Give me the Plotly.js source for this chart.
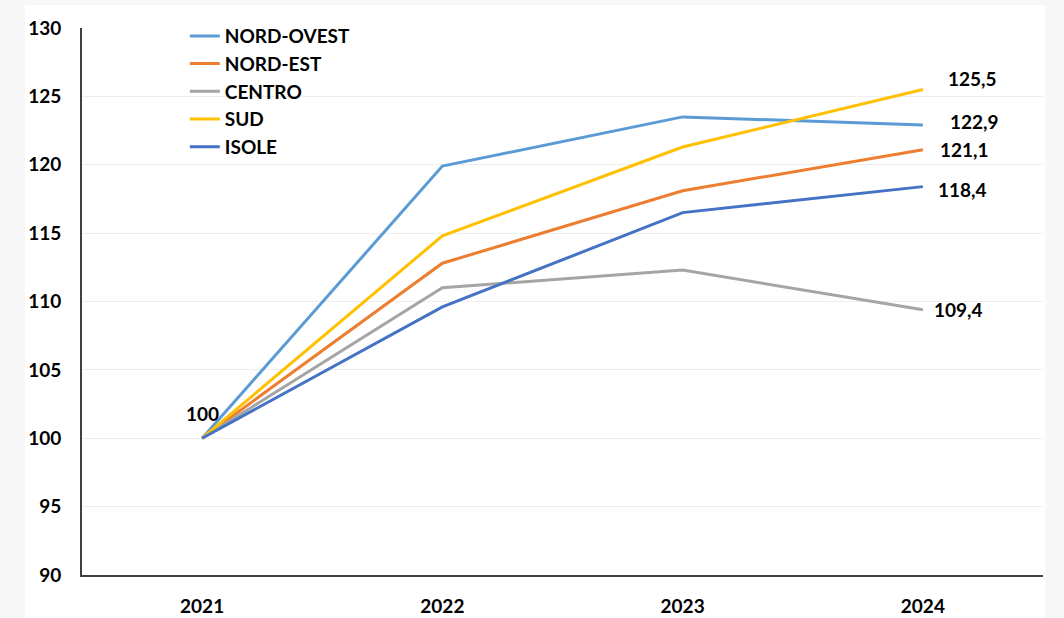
<!DOCTYPE html>
<html>
<head>
<meta charset="utf-8">
<script src="https://cdn.plot.ly/plotly-3.0.1.min.js"></script>
<style>
html,body{margin:0;padding:0;background:#f7f7f7;}
#chart{width:1064px;height:618px;}
</style>
</head>
<body>
<div id="chart"></div>
<script>
const years = ['2021', '2022', '2023', '2024'];
const seriesNames = ['NORD-OVEST', 'NORD-EST', 'CENTRO', 'SUD', 'ISOLE'];
const nordOvest = [100, 119.9, 123.5, 122.9];
const nordEst = [100, 112.8, 118.1, 121.1];
const centro = [100, 111.0, 112.3, 109.4];
const sud = [100, 114.8, 121.3, 125.5];
const isole = [100, 109.6, 116.5, 118.4];
const yTicks = [90, 95, 100, 105, 110, 115, 120, 125, 130];

const seriesValues = [nordOvest, nordEst, centro, sud, isole];
const colors = ['#5B9BD5', '#ED7D31', '#A5A5A5', '#FFC000', '#4472C4'];
const FONT = 'Lato, "Open Sans", Arial, sans-serif';

const traces = seriesNames.map((name, i) => ({
  type: 'scatter',
  mode: 'lines',
  name: name,
  x: years,
  y: seriesValues[i],
  line: {color: colors[i], width: 3}
}));

const last = years.length - 1;
const endShifts = [[52, 4], [42, 0], [36, 0], [50, 11], [40, -3]];
const fmt = v => v.toFixed(1).replace('.', ',');
const annotations = seriesNames.map((name, i) => ({
  x: last,
  y: seriesValues[i][last],
  xref: 'x', yref: 'y',
  text: '<b>' + fmt(seriesValues[i][last]) + '</b>',
  showarrow: false,
  xanchor: 'center',
  xshift: endShifts[i][0],
  yshift: endShifts[i][1],
  font: {family: FONT, size: 19, color: '#000000'}
}));
annotations.push({
  x: 0, y: nordOvest[0], xref: 'x', yref: 'y',
  text: '<b>' + String(nordOvest[0]) + '</b>', showarrow: false,
  xanchor: 'center',
  xshift: 0, yshift: 25,
  font: {family: FONT, size: 19, color: '#000000'}
});

const layout = {
  width: 1064, height: 618,
  paper_bgcolor: '#f7f7f7',
  plot_bgcolor: 'rgba(0,0,0,0)',
  margin: {l: 82, r: 21, t: 28, b: 43, pad: 0},
  showlegend: true,
  legend: {
    x: 0.107, y: 1.02, xanchor: 'left', yanchor: 'top',
    bgcolor: 'rgba(0,0,0,0)',
    font: {family: FONT, size: 19, color: '#000', weight: 'bold'},
    itemwidth: 30
  },
  xaxis: {
    type: 'category',
    range: [-0.5, 3.5],
    showgrid: false,
    showline: true, linecolor: '#404040', linewidth: 2,
    ticks: '', ticklabelstandoff: 13,
    tickfont: {family: FONT, size: 19, color: '#000', weight: 'bold'},
    zeroline: false, fixedrange: true
  },
  yaxis: {
    range: [90, 130],
    tickvals: yTicks,
    ticktext: yTicks.map(String),
    showgrid: true, gridcolor: '#eeeeee', gridwidth: 1,
    showline: true, linecolor: '#404040', linewidth: 2,
    ticks: '', ticklabelstandoff: 15,
    tickfont: {family: FONT, size: 19, color: '#000', weight: 'bold'},
    zeroline: false, fixedrange: true
  },
  shapes: [{
    type: 'rect', xref: 'paper', yref: 'paper', layer: 'below',
    x0: -0.0593, x1: 1.002, y0: -0.08, y1: 1.042,
    fillcolor: '#ffffff', line: {width: 0}
  }],
  annotations: annotations
};

Plotly.newPlot('chart', traces, layout, {displayModeBar: false, staticPlot: true});
</script>
</body>
</html>
